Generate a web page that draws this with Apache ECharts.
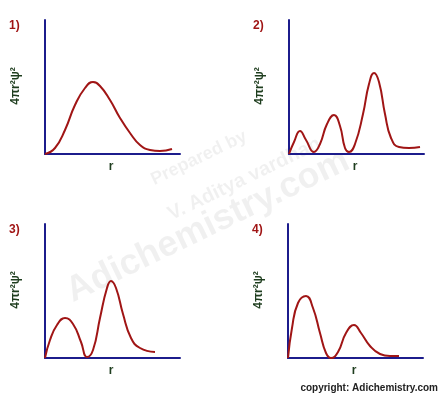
<!DOCTYPE html><html><head><meta charset="utf-8"><script src="https://cdn.jsdelivr.net/npm/echarts@6/dist/echarts.min.js"></script></head><body style="margin:0"><div id="c" style="width:448px;height:402px"></div><script>
const p1=[[0,0],[10,6],[20,24],[30,49],[40,66],[48,72],[55,68],[65,54],[75,36],[85,21],[95,9],[105,4],[115,3],[127,5]];
const p2=[[0,0],[5,12],[11,23],[17,14],[25,2],[31,10],[38,30],[45,39],[51,28],[56,6],[60,2],[66,10],[74,40],[80,70],[85,81],[90,72],[96,40],[102,16],[110,7],[120,6],[131,7]];
const p3=[[0,0],[5,18],[12,33],[20,40],[28,34],[36,16],[42,1],[48,8],[55,40],[62,70],[66,77],[71,70],[78,44],[86,20],[95,10],[110,6]];
const p4=[[0,0],[4,30],[10,55],[18,62],[25,50],[32,25],[38,5],[43,0],[50,6],[58,25],[66,33],[73,25],[82,12],[92,4],[102,2],[111,2]];
const panels=[p1,p2,p3,p4];
const nums=['1)','2)','3)','4)'];
const org=[[45,154],[289,154],[45,358],[288,358]];
const ax={color:'#1c1c8c',width:2};
const grid=[],xA=[],yA=[],series=[],g=[];
panels.forEach((d,i)=>{const [ox,oy]=org[i];
grid.push({left:ox,top:oy-134,width:135,height:134});
xA.push({gridIndex:i,type:'value',min:0,max:135,axisLine:{lineStyle:ax},axisTick:{show:false},axisLabel:{show:false},splitLine:{show:false}});
yA.push({gridIndex:i,type:'value',min:0,max:134,axisLine:{show:true,lineStyle:ax},axisTick:{show:false},axisLabel:{show:false},splitLine:{show:false}});
series.push({type:'line',xAxisIndex:i,yAxisIndex:i,data:d,smooth:0.5,showSymbol:false,lineStyle:{color:'#a01515',width:2}});
g.push({type:'text',left:ox-36,top:oy-134,style:{text:nums[i],fill:'#a01515',font:'bold 12px Arial'}});
g.push({type:'text',x:ox-29,y:oy-68,rotation:Math.PI/2,style:{text:'4πr²ψ²',fill:'#1e3d1e',font:'bold 12px Arial',align:'center',verticalAlign:'middle'}});
g.push({type:'text',x:ox+66,y:oy+13,style:{text:'r',fill:'#1e3d1e',font:'bold 12px Arial',align:'center',verticalAlign:'middle'}});
});
g.push({type:'text',x:195,y:150,rotation:0.45,style:{text:'Prepared by',fill:'rgba(0,0,0,0.06)',font:'bold 18px Arial',align:'center'}});
g.push({type:'text',x:240,y:170,rotation:0.45,style:{text:'V. Aditya vardhan',fill:'rgba(0,0,0,0.06)',font:'bold 20px Arial',align:'center'}});
g.push({type:'text',x:200,y:210,rotation:0.45,style:{text:'Adichemistry.com',fill:'rgba(0,0,0,0.06)',font:'bold 36px Arial',align:'center'}});
g.push({type:'text',right:10,top:383,style:{text:'copyright: Adichemistry.com',fill:'#222',font:'bold 10px Arial'}});
const ch=echarts.init(document.getElementById('c'));
ch.setOption({animation:false,backgroundColor:'#fff',grid,xAxis:xA,yAxis:yA,series,graphic:g});
</script></body></html>
